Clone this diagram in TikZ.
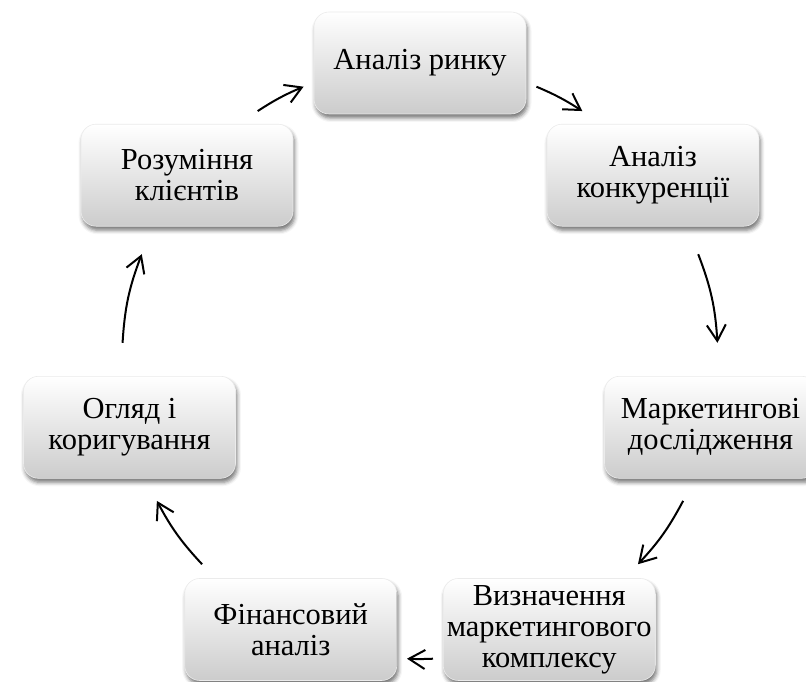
\documentclass[tikz,border=0pt]{standalone}
\usepackage{fontspec}
\setmainfont{Liberation Serif}
\usetikzlibrary{calc,arrows.meta,shadows.blur}

\tikzset{
  cyclebox/.style={rounded corners=15pt, minimum width=212pt, minimum height=102pt,
    inner sep=0pt, align=center, top color=white, bottom color=black!20,
    draw=black!8, line width=0.6pt,
    blur shadow={shadow xshift=1.5pt, shadow yshift=-4pt, shadow blur radius=4pt, shadow opacity=55},
    font=\fontsize{30.5}{31}\selectfont},
  cyclearrow/.style={line width=2pt, -{Straight Barb[length=16pt,width=19pt]}}
}

\begin{document}
\begin{tikzpicture}[x=1pt,y=1pt]
  \useasboundingbox (0,0) rectangle (806,682);
  \coordinate (ctr) at (420,321);

  % boxes
  \node[cyclebox] (rynok) at ($(ctr)+(90:298)$) {Аналіз ринку};
  \node[cyclebox] (konk) at ($(ctr)+(38.57:298)$) {Аналіз\\конкуренції};
  \node[cyclebox] (dosl) at ($(ctr)+(-12.86:298)$) {Маркетингові\\дослідження};
  \node[cyclebox] (kompl) at ($(ctr)+(-64.29:298)$) {Визначення\\маркетингового\\комплексу};
  \node[cyclebox] (fin) at ($(ctr)+(-115.71:298)$) {Фінансовий\\аналіз};
  \node[cyclebox] (ohliad) at ($(ctr)+(-167.14:298)$) {Огляд і\\коригування};
  \node[cyclebox] (kliient) at ($(ctr)+(141.43:298)$) {Розуміння\\клієнтів};

  % arrow ends on the cycle
  \coordinate (t12) at ($(ctr)+(67:298)$);    \coordinate (h12) at ($(ctr)+(57:298)$);
  \coordinate (t23) at ($(ctr)+(21:298)$);    \coordinate (h23) at ($(ctr)+(3.5:298)$);
  \coordinate (t34) at ($(ctr)+(-28:298)$);   \coordinate (h34) at ($(ctr)+(-43:298)$);
  \coordinate (t45) at ($(ctr)+(-87.5:298)$); \coordinate (h45) at ($(ctr)+(-92.5:298)$);
  \coordinate (t56) at ($(ctr)+(-137:298)$);  \coordinate (h56) at ($(ctr)+(-152:298)$);
  \coordinate (t67) at ($(ctr)+(176.5:298)$); \coordinate (h67) at ($(ctr)+(159:298)$);
  \coordinate (t71) at ($(ctr)+(123:298)$);   \coordinate (h71) at ($(ctr)+(113:298)$);

  % arrows
  \draw[cyclearrow] (t12) to[bend left=5] (h12);
  \draw[cyclearrow] (t23) to[bend left=8.75] (h23);
  \draw[cyclearrow] (t34) to[bend left=7.5] (h34);
  \draw[cyclearrow] (t45) to[bend left=2.5] (h45);
  \draw[cyclearrow] (t56) to[bend left=7.5] (h56);
  \draw[cyclearrow] (t67) to[bend left=8.75] (h67);
  \draw[cyclearrow] (t71) to[bend left=5] (h71);
\end{tikzpicture}
\end{document}
